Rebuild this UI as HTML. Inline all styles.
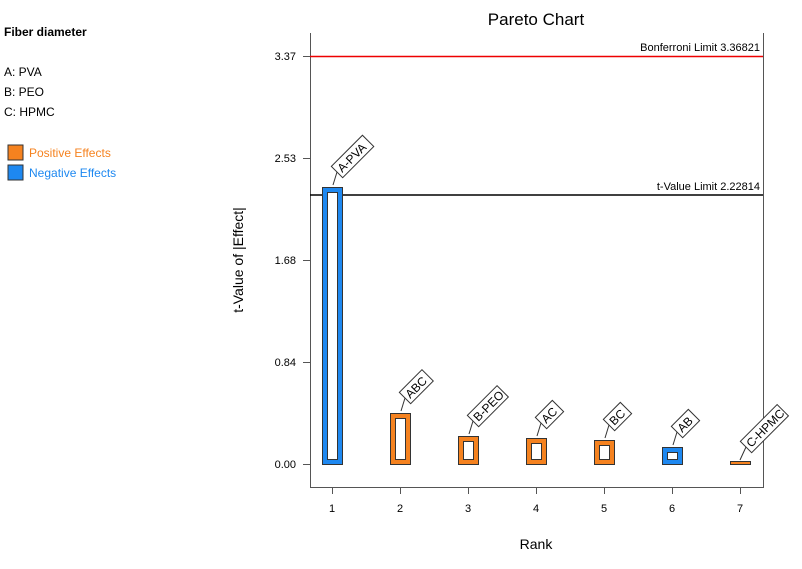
<!DOCTYPE html>
<html><head><style>
body{margin:0;background:#fff;}
svg text{font-family:"Liberation Sans",sans-serif;}
</style></head><body>
<svg width="802" height="564" xmlns="http://www.w3.org/2000/svg">
<rect width="802" height="564" fill="#fff"/>
<text x="4" y="36" font-size="12" font-weight="bold">Fiber diameter</text>
<text x="4" y="76" font-size="12">A: PVA</text>
<text x="4" y="96" font-size="12">B: PEO</text>
<text x="4" y="116" font-size="12">C: HPMC</text>
<rect x="8" y="145" width="15" height="15" fill="#f5821f" stroke="#333" stroke-width="1"/>
<text x="29" y="157" font-size="12" fill="#f5821f">Positive Effects</text>
<rect x="8" y="165" width="15" height="15" fill="#1e88f0" stroke="#333" stroke-width="1"/>
<text x="29" y="177" font-size="12" fill="#1e88f0">Negative Effects</text>
<text x="536" y="25" font-size="17" text-anchor="middle">Pareto Chart</text>
<text x="536" y="549" font-size="14" text-anchor="middle">Rank</text>
<text transform="translate(243,260) rotate(-90)" font-size="14" text-anchor="middle">t-Value of |Effect|</text>
<g stroke="#555" stroke-width="1" fill="none">
<line x1="310.5" y1="33" x2="310.5" y2="487"/>
<line x1="763.5" y1="33" x2="763.5" y2="487"/>
<line x1="310" y1="487.5" x2="764" y2="487.5"/>
<line x1="303" y1="56.5" x2="310" y2="56.5"/>
<line x1="303" y1="158.5" x2="310" y2="158.5"/>
<line x1="303" y1="260.5" x2="310" y2="260.5"/>
<line x1="303" y1="362.5" x2="310" y2="362.5"/>
<line x1="303" y1="464.5" x2="310" y2="464.5"/>
<line x1="332.5" y1="487" x2="332.5" y2="494"/>
<line x1="400.5" y1="487" x2="400.5" y2="494"/>
<line x1="468.5" y1="487" x2="468.5" y2="494"/>
<line x1="536.5" y1="487" x2="536.5" y2="494"/>
<line x1="604.5" y1="487" x2="604.5" y2="494"/>
<line x1="672.5" y1="487" x2="672.5" y2="494"/>
<line x1="740.5" y1="487" x2="740.5" y2="494"/>
</g>
<g font-size="11" text-anchor="end">
<text x="296" y="60">3.37</text><text x="296" y="162">2.53</text><text x="296" y="264">1.68</text><text x="296" y="366">0.84</text><text x="296" y="468">0.00</text>
</g>
<g font-size="11" text-anchor="middle">
<text x="332" y="512">1</text><text x="400" y="512">2</text><text x="468" y="512">3</text><text x="536" y="512">4</text><text x="604" y="512">5</text><text x="672" y="512">6</text><text x="740" y="512">7</text>
</g>
<line x1="310" y1="56.5" x2="763" y2="56.5" stroke="#e00" stroke-width="1.5"/>
<text x="760" y="51" font-size="11" text-anchor="end">Bonferroni Limit 3.36821</text>
<line x1="310" y1="195" x2="763" y2="195" stroke="#000" stroke-width="1.5"/>
<text x="760" y="190" font-size="11" text-anchor="end">t-Value Limit 2.22814</text>
<!-- bars -->
<g stroke="#333" stroke-width="1">
<rect x="322.5" y="187.5" width="20" height="277" fill="#1e88f0"/><rect x="327.5" y="192.5" width="10" height="267" fill="#fff"/>
<rect x="390.5" y="413.5" width="20" height="51" fill="#f5821f"/><rect x="395.5" y="418.5" width="10" height="41" fill="#fff"/>
<rect x="458.5" y="436.5" width="20" height="28" fill="#f5821f"/><rect x="463.5" y="441.5" width="10" height="18" fill="#fff"/>
<rect x="526.5" y="438.5" width="20" height="26" fill="#f5821f"/><rect x="531.5" y="443.5" width="10" height="16" fill="#fff"/>
<rect x="594.5" y="440.5" width="20" height="24" fill="#f5821f"/><rect x="599.5" y="445.5" width="10" height="14" fill="#fff"/>
<rect x="662.5" y="447.5" width="20" height="17" fill="#1e88f0"/><rect x="667.5" y="452.5" width="10" height="7" fill="#fff"/>
<rect x="730.5" y="461.5" width="20" height="3" fill="#f5821f"/>
</g>
<!-- labels -->
<g font-size="12" stroke="#333" stroke-width="1">
<g transform="translate(333,185)"><line x1="0" y1="0" x2="4" y2="-13"/><g transform="translate(4,-13) rotate(-45)"><rect x="0" y="-8" width="44" height="16" fill="#fff"/><text x="3" y="4.5" stroke="none">A-PVA</text></g></g>
<g transform="translate(401,411)"><line x1="0" y1="0" x2="4" y2="-13"/><g transform="translate(4,-13) rotate(-45)"><rect x="0" y="-8" width="32" height="16" fill="#fff"/><text x="3" y="4.5" stroke="none">ABC</text></g></g>
<g transform="translate(469,434)"><line x1="0" y1="0" x2="4" y2="-13"/><g transform="translate(4,-13) rotate(-45)"><rect x="0" y="-8" width="42" height="16" fill="#fff"/><text x="3" y="4.5" stroke="none">B-PEO</text></g></g>
<g transform="translate(537,436)"><line x1="0" y1="0" x2="4" y2="-13"/><g transform="translate(4,-13) rotate(-45)"><rect x="0" y="-8" width="24" height="16" fill="#fff"/><text x="3" y="4.5" stroke="none">AC</text></g></g>
<g transform="translate(605,438)"><line x1="0" y1="0" x2="4" y2="-13"/><g transform="translate(4,-13) rotate(-45)"><rect x="0" y="-8" width="24" height="16" fill="#fff"/><text x="3" y="4.5" stroke="none">BC</text></g></g>
<g transform="translate(673,445)"><line x1="0" y1="0" x2="4" y2="-13"/><g transform="translate(4,-13) rotate(-45)"><rect x="0" y="-8" width="24" height="16" fill="#fff"/><text x="3" y="4.5" stroke="none">AB</text></g></g>
<g transform="translate(740,460)"><line x1="0" y1="0" x2="6" y2="-13"/><g transform="translate(6,-13) rotate(-45)"><rect x="0" y="-8" width="52" height="16" fill="#fff"/><text x="3" y="4.5" stroke="none">C-HPMC</text></g></g>
</g>
</svg>
</body></html>
